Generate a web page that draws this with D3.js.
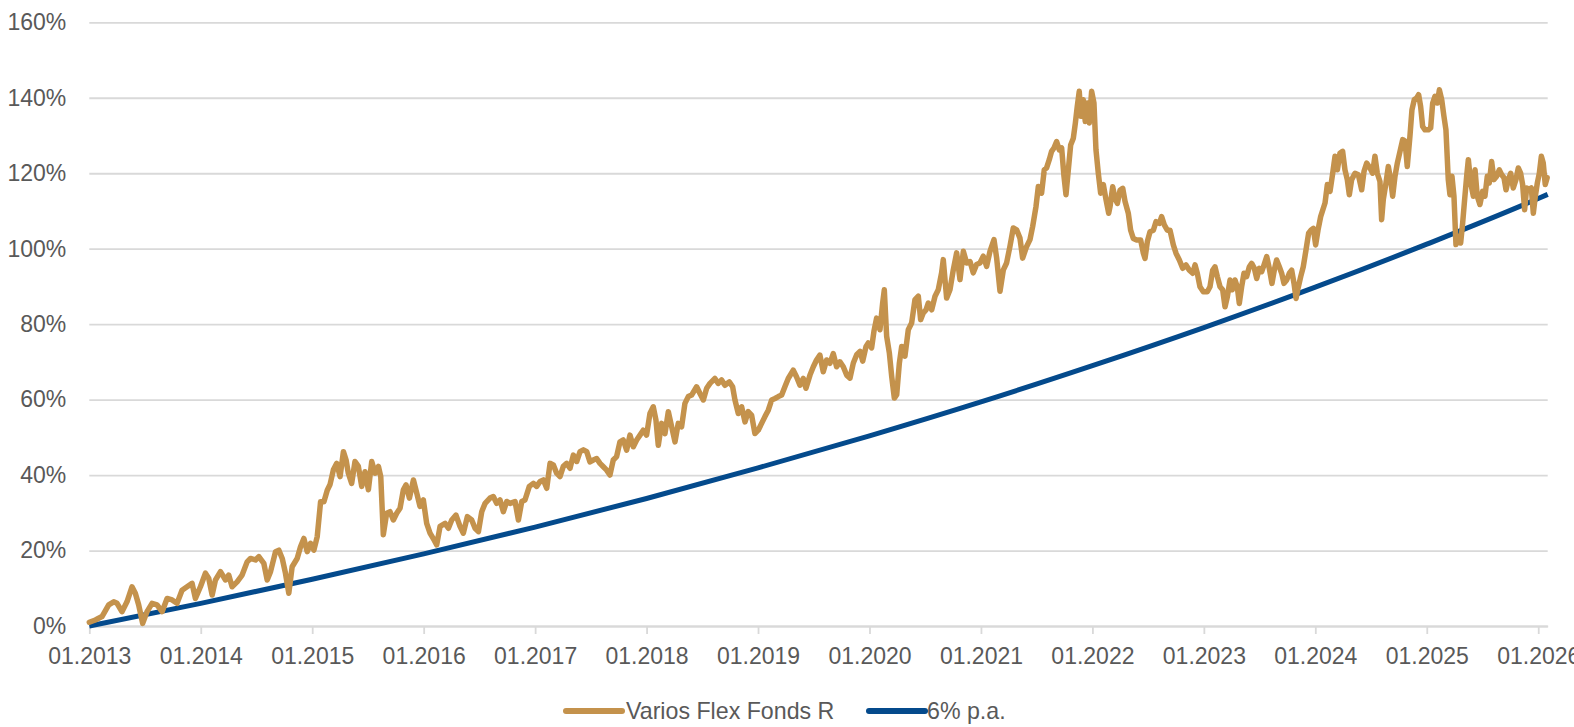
<!DOCTYPE html>
<html>
<head>
<meta charset="utf-8">
<script src="https://cdn.jsdelivr.net/npm/d3@7"></script>
<style>
  html, body { margin: 0; padding: 0; background: #ffffff; }
  svg { display: block; }
  text { font-family: "Liberation Sans", Arial, sans-serif; }
</style>
</head>
<body>
<svg id="chart" width="1574" height="727"></svg>
<script>
// ---------- DATA ----------
const seriesNames = ["Varios Flex Fonds R", "6% p.a."];
const seriesColors = ["#C4924C", "#044A8C"];

const xTickYears = [2013, 2014, 2015, 2016, 2017, 2018, 2019, 2020, 2021, 2022, 2023, 2024, 2025, 2026];
const yTicks = [0, 20, 40, 60, 80, 100, 120, 140, 160];

// 6% p.a. reference line (read at each January)
const sixPaYears = [2013, 2014, 2015, 2016, 2017, 2018, 2019, 2020, 2021, 2022, 2023, 2024, 2025, 2026, 2026.085];
const sixPaValues = [0, 6.0, 12.4, 19.1, 26.2, 33.8, 41.9, 50.4, 59.4, 69.0, 79.1, 89.8, 101.2, 113.3, 114.4];

// Varios Flex Fonds R, cumulative performance in % (time in decimal years)
const fundYears = [
2013.000,2013.054,2013.114,2013.174,2013.219,2013.249,2013.293,2013.338,2013.383,2013.413,
2013.443,2013.479,2013.518,2013.563,2013.608,2013.653,2013.698,2013.743,2013.787,2013.832,
2013.877,2013.922,2013.952,2013.997,2014.042,2014.072,2014.102,2014.132,2014.177,2014.222,
2014.251,2014.281,2014.326,2014.371,2014.416,2014.446,2014.491,2014.521,2014.566,2014.596,
2014.626,2014.671,2014.701,2014.731,2014.760,2014.790,2014.820,2014.865,2014.895,2014.925,
2014.955,2014.985,2015.015,2015.045,2015.075,2015.105,2015.135,
2015.160,2015.190,2015.220,2015.250,2015.280,2015.304,2015.324,2015.354,2015.384,2015.414,
2015.444,2015.474,2015.504,2015.534,2015.564,2015.594,2015.615,2015.638,2015.668,2015.698,
2015.728,2015.758,2015.788,2015.818,2015.842,2015.872,2015.908,2015.938,2015.967,2015.997,
2016.027,2016.057,2016.093,2016.117,2016.147,2016.192,2016.222,2016.252,2016.290,2016.326,
2016.356,2016.392,2016.431,2016.461,2016.491,2016.521,2016.551,2016.595,2016.625,2016.655,
2016.685,2016.715,2016.745,2016.775,2016.820,2016.850,2016.880,2016.909,2016.948,2016.984,
2017.014,2017.044,2017.074,2017.104,2017.134,2017.164,2017.193,2017.223,2017.253,2017.283,
2017.313,2017.343,2017.373,2017.403,2017.433,2017.463,
2017.492,2017.522,2017.552,2017.582,2017.612,2017.642,2017.671,2017.701,2017.731,2017.761,
2017.791,2017.821,2017.851,2017.881,2017.911,2017.941,2017.970,2018.000,2018.030,2018.060,
2018.084,2018.105,2018.135,2018.165,2018.195,2018.225,2018.255,2018.284,2018.314,2018.344,
2018.374,2018.404,2018.449,2018.479,2018.509,2018.539,2018.569,2018.613,2018.643,2018.673,
2018.703,2018.742,2018.772,2018.793,2018.823,2018.853,2018.883,2018.912,2018.942,2018.972,
2019.002,2019.032,2019.062,2019.092,2019.122,2019.152,2019.182,2019.212,2019.241,2019.271,
2019.316,2019.346,2019.376,2019.406,2019.430,2019.466,2019.496,2019.525,2019.555,2019.585,
2019.615,2019.645,2019.675,2019.705,2019.735,2019.765,2019.795,
2019.825,2019.855,2019.885,2019.915,2019.939,2019.969,2019.989,2020.019,2020.040,2020.064,
2020.094,2020.118,2020.133,2020.154,2020.178,2020.199,2020.223,2020.244,2020.268,2020.289,
2020.318,2020.348,2020.378,2020.408,2020.438,2020.459,2020.483,2020.507,2020.528,2020.558,
2020.588,2020.617,2020.647,2020.662,2020.692,2020.722,2020.752,2020.782,2020.812,2020.842,
2020.872,2020.902,2020.931,2020.961,2020.991,2021.021,2021.051,2021.081,2021.117,2021.141,
2021.171,2021.201,2021.230,2021.260,2021.290,2021.320,2021.350,2021.374,2021.410,2021.440,
2021.464,2021.494,2021.515,2021.544,2021.568,2021.589,2021.613,2021.634,2021.655,2021.679,
2021.703,2021.724,2021.745,2021.763,2021.784,2021.805,2021.829,2021.847,2021.864,2021.882,
2021.897,2021.918,2021.936,2021.954,2021.972,2021.993,2022.014,2022.032,2022.053,2022.074,
2022.098,2022.122,2022.146,
2022.158,2022.182,2022.203,2022.224,2022.248,2022.272,2022.293,2022.322,2022.343,2022.367,
2022.397,2022.433,2022.457,2022.472,2022.493,2022.517,2022.547,2022.571,2022.601,2022.621,
2022.645,2022.672,2022.696,2022.726,2022.750,2022.780,2022.810,2022.840,2022.870,2022.900,
2022.921,2022.941,2022.965,2022.995,2023.031,2023.055,2023.079,2023.100,2023.121,2023.145,
2023.169,2023.190,2023.211,2023.235,2023.255,2023.279,2023.300,2023.318,2023.339,2023.360,
2023.384,2023.408,2023.429,2023.453,2023.474,2023.498,2023.519,2023.540,2023.564,2023.587,
2023.611,2023.635,2023.653,2023.677,2023.698,2023.719,2023.743,2023.767,2023.788,2023.809,
2023.827,2023.848,2023.869,2023.892,2023.916,2023.940,2023.961,2023.982,2024.003,2024.024,
2024.048,
2024.087,2024.108,2024.132,2024.156,2024.177,2024.198,2024.221,2024.245,2024.266,2024.287,
2024.305,2024.326,2024.356,2024.386,2024.416,2024.437,2024.461,2024.491,2024.514,2024.535,
2024.556,2024.580,2024.595,2024.610,2024.634,2024.655,2024.676,2024.694,2024.715,2024.736,
2024.760,2024.784,2024.805,2024.825,2024.849,2024.867,2024.888,2024.909,2024.927,2024.945,
2024.963,2024.984,2025.014,2025.035,2025.053,2025.074,2025.095,2025.113,2025.134,2025.154,
2025.172,2025.193,2025.208,2025.226,2025.244,2025.262,2025.283,2025.304,2025.322,2025.337,
2025.358,2025.373,2025.394,2025.418,2025.433,2025.453,2025.477,2025.501,2025.522,2025.543,
2025.561,2025.582,2025.603,2025.627,2025.651,2025.672,2025.693,2025.711,2025.732,2025.753,
2025.776,2025.800,2025.821,2025.842,2025.860,2025.878,2025.896,2025.917,2025.938,2025.956,
2025.974,2025.992,2026.010,2026.028,2026.045,2026.063,2026.080
];
const fundValues = [
1.0,1.6,2.5,5.6,6.4,6.0,3.8,6.4,10.4,8.7,
5.6,0.7,3.8,6.0,5.6,3.8,7.3,6.9,6.0,9.5,
10.4,11.3,7.3,10.4,14.0,12.6,8.2,12.2,14.4,12.2,
13.5,10.4,11.7,13.5,17.0,17.9,17.5,18.4,16.6,12.2,
14.4,19.7,20.1,17.9,14.0,8.7,15.7,17.9,21.0,23.2,
19.7,21.9,20.1,23.7,32.9,32.9,36.0,
37.5,41.4,43.1,39.6,46.2,44.0,40.5,37.8,43.6,42.3,
37.0,40.9,36.1,43.6,40.5,42.3,39.6,24.2,29.9,30.3,
28.1,29.9,31.2,36.1,37.4,33.9,38.7,35.2,31.7,33.4,
27.2,24.6,22.8,21.5,26.4,27.2,25.9,28.1,29.4,26.4,
24.6,29.0,28.1,25.9,25.0,30.3,32.5,33.9,34.3,32.5,
33.4,30.3,33.0,32.5,33.0,28.1,33.0,33.4,37.0,37.8,
37.0,38.3,38.7,36.5,43.1,42.7,40.5,39.6,42.3,43.1,
41.8,45.3,43.6,46.2,46.7,46.2,
43.5,44.0,44.4,43.1,42.2,41.3,40.0,44.0,44.9,48.8,
49.3,46.6,50.6,47.5,49.3,50.6,51.9,50.6,56.3,58.1,
54.6,47.9,53.7,51.0,56.8,52.8,48.8,53.7,52.8,59.0,
60.8,61.2,63.4,61.6,59.9,63.0,64.3,65.6,64.3,65.2,
63.8,64.7,63.4,59.9,56.3,58.1,54.1,56.8,55.9,51.0,
51.9,53.7,55.5,57.2,59.9,60.3,60.8,61.2,63.4,65.6,
67.8,66.0,63.8,65.6,63.0,66.5,68.7,70.5,71.8,67.4,
70.5,69.6,72.2,68.7,70.0,68.7,66.5,
65.7,69.7,71.9,72.8,70.2,74.1,75.0,73.7,78.1,81.6,
78.5,85.6,89.1,76.8,72.4,66.2,60.4,61.3,69.7,74.1,
71.5,78.5,80.3,86.5,87.4,81.2,83.0,83.8,85.6,83.8,
87.4,89.1,93.6,97.1,86.9,89.1,94.4,98.9,91.8,99.3,
96.2,96.6,93.6,95.8,96.2,98.0,95.3,99.3,102.4,97.5,
88.7,94.4,96.2,100.6,105.5,105.0,102.8,97.5,100.6,102.4,
105.9,111.2,116.5,114.7,120.9,121.4,123.6,125.8,126.7,128.4,
126.2,126.7,119.2,114.3,120.9,127.5,129.3,133.3,137.7,141.7,
135.1,139.5,133.7,138.6,133.3,141.7,138.6,126.2,120.0,114.7,
117.0,113.0,109.4,
111.1,116.4,113.3,112.0,115.5,116.0,112.5,109.4,104.9,102.7,
102.3,102.3,98.8,97.4,101.9,104.5,104.9,107.2,106.7,108.5,
106.3,104.9,104.9,101.0,98.8,97.0,94.8,95.7,94.3,93.5,
95.7,93.5,89.9,88.6,88.6,89.9,94.3,95.2,92.6,89.9,
89.1,84.6,87.3,91.7,89.1,91.7,89.9,85.5,89.9,93.5,
92.6,95.2,96.1,94.8,92.1,94.8,93.9,95.7,97.9,94.8,
90.8,94.8,97.0,95.2,93.5,90.8,91.7,93.5,94.3,90.8,
86.8,89.9,92.6,95.2,99.6,104.1,104.9,105.4,101.0,104.9,
108.5,
112.1,117.0,115.2,120.0,124.5,120.9,125.3,125.8,120.9,118.3,
114.3,118.3,120.0,119.6,115.6,120.5,122.7,121.4,120.0,124.5,
120.0,117.8,107.7,113.0,117.4,121.8,118.3,113.9,119.2,122.7,
125.8,128.9,128.5,121.8,129.8,136.8,139.5,139.9,140.8,137.7,
132.4,131.5,131.5,132.0,138.6,140.4,138.6,142.1,139.5,135.1,
131.5,118.3,114.3,119.2,113.9,101.1,103.3,101.5,106.8,112.1,
119.2,123.6,117.4,113.9,120.9,113.9,111.7,115.2,113.9,119.2,
117.4,123.1,118.3,119.2,120.9,119.6,118.8,115.6,118.3,120.0,
116.1,118.3,121.4,120.0,117.0,110.3,116.1,115.6,116.1,109.4,
113.9,117.4,120.0,124.5,122.7,117.0,118.8
];

// ---------- CHART ----------
const svg = d3.select("#chart");
const plot = { left: 89.3, right: 1547.7, top: 22.3, bottom: 626 };
const textColor = "#595959";
const gridColor = "#D9D9D9";
const fontSize = 23;

const x = d3.scaleLinear().domain([2013, 2026.085]).range([plot.left, plot.right]);
const y = d3.scaleLinear().domain([0, 160]).range([plot.bottom, plot.top]);

// Y axis + gridlines
const yAxis = svg.append("g")
  .attr("transform", `translate(${plot.left},0)`)
  .call(d3.axisLeft(y).tickValues(yTicks).tickSize(-(plot.right - plot.left)).tickPadding(23)
        .tickFormat(d => d + "%"));
yAxis.select(".domain").remove();
yAxis.selectAll(".tick line").attr("stroke", gridColor).attr("stroke-width", 1.8);
yAxis.selectAll(".tick text").attr("fill", textColor).style("font-size", fontSize + "px")
  .style("font-family", "'Liberation Sans', Arial, sans-serif");

// X axis
const xAxis = svg.append("g")
  .attr("transform", `translate(0,${plot.bottom})`)
  .call(d3.axisBottom(x).tickValues(xTickYears).tickSizeInner(8).tickSizeOuter(0).tickPadding(14)
        .tickFormat(d => "01." + d));
xAxis.select(".domain").attr("stroke", gridColor).attr("stroke-width", 1.8);
xAxis.selectAll(".tick line").attr("stroke", gridColor).attr("stroke-width", 1.8);
xAxis.selectAll(".tick text").attr("fill", textColor).style("font-size", fontSize + "px")
  .style("font-family", "'Liberation Sans', Arial, sans-serif");

// Lines
const sixPaData = sixPaYears.map((t, i) => ({ t, v: sixPaValues[i] }));
const fundData = fundYears.map((t, i) => ({ t, v: fundValues[i] }));

const lineSmooth = d3.line().x(d => x(d.t)).y(d => y(d.v)).curve(d3.curveMonotoneX);
const lineRaw = d3.line().x(d => x(d.t)).y(d => y(d.v)).curve(d3.curveLinear);

svg.append("path").datum(sixPaData)
  .attr("d", lineSmooth)
  .attr("fill", "none").attr("stroke", seriesColors[1]).attr("stroke-width", 5)
  .attr("stroke-linejoin", "round");

svg.append("path").datum(fundData)
  .attr("d", lineRaw)
  .attr("fill", "none").attr("stroke", seriesColors[0]).attr("stroke-width", 5.5)
  .attr("stroke-linejoin", "round").attr("stroke-linecap", "round");

// Legend
const legendItems = [
  { name: seriesNames[0], color: seriesColors[0], x1: 566, x2: 622, tx: 626 },
  { name: seriesNames[1], color: seriesColors[1], x1: 869, x2: 925, tx: 927 }
];
const legendY = 711;
const lg = svg.append("g");
legendItems.forEach(it => {
  lg.append("line").attr("x1", it.x1).attr("x2", it.x2).attr("y1", legendY).attr("y2", legendY)
    .attr("stroke", it.color).attr("stroke-width", 6).attr("stroke-linecap", "round");
  lg.append("text").attr("x", it.tx).attr("y", legendY).attr("dy", "0.36em")
    .attr("fill", textColor).style("font-size", "23.2px").text(it.name);
});
</script>
</body>
</html>
